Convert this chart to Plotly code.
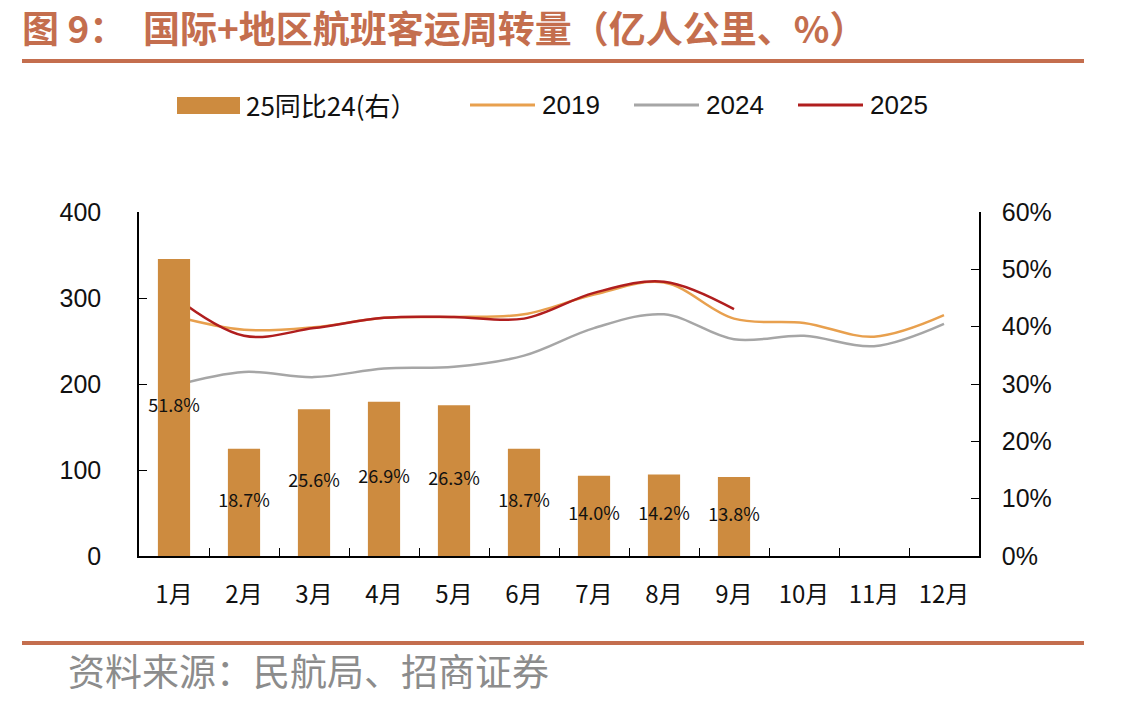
import plotly.graph_objects as go

months = ["1月", "2月", "3月", "4月", "5月", "6月", "7月", "8月", "9月", "10月", "11月", "12月"]
yoy_2524 = [0.518, 0.187, 0.256, 0.269, 0.263, 0.187, 0.140, 0.142, 0.138]
yoy_labels = ["51.8%", "18.7%", "25.6%", "26.9%", "26.3%", "18.7%", "14.0%", "14.2%", "13.8%"]
v2019 = [279, 263, 266, 277, 278, 281, 304, 318, 276, 271, 255, 280]
v2024 = [198, 214, 208, 218, 220, 233, 265, 281, 252, 256, 244, 270]
v2025 = [302, 256, 265, 277, 278, 276, 306, 319, 287]
left_ticks = [0, 100, 200, 300, 400]
right_ticks = [0, 0.1, 0.2, 0.3, 0.4, 0.5, 0.6]

W, H = 1143, 703
L, R, T, B = 139, 979, 212, 556
def px(x):
    return (x - L) / (R - L)
def py(y):
    return (B - y) / (B - T)

C_BAR = "#CD8B3F"
C_2019 = "#E8A04E"
C_2024 = "#A6A6A6"
C_2025 = "#B01E1E"
C_TITLE = "#C46E4E"
FONT_NUM = "Liberation Sans Narrow, Liberation Sans, Arial, sans-serif"
FONT_CJK = "Noto Sans CJK SC, sans-serif"

fig = go.Figure()
fig.add_trace(go.Bar(x=months[:len(yoy_2524)], y=yoy_2524, yaxis="y2", marker_color=C_BAR,
                     marker_line_width=0, width=0.46, name="25同比24(右)", showlegend=False))
fig.add_trace(go.Scatter(x=months[:len(yoy_2524)], y=[v / 2 for v in yoy_2524], yaxis="y2",
                         mode="text", text=yoy_labels,
                         textfont=dict(family=FONT_CJK, size=18, color="#111111"),
                         showlegend=False, hoverinfo="skip"))
fig.add_trace(go.Scatter(x=months, y=v2019, mode="lines", line=dict(color=C_2019, width=2.5, shape="spline", smoothing=1.0), name="2019", showlegend=False))
fig.add_trace(go.Scatter(x=months, y=v2024, mode="lines", line=dict(color=C_2024, width=2.5, shape="spline", smoothing=1.0), name="2024", showlegend=False))
fig.add_trace(go.Scatter(x=months[:len(v2025)], y=v2025, mode="lines", line=dict(color=C_2025, width=2.5, shape="spline", smoothing=1.0), name="2025", showlegend=False))

shapes = []
annotations = []
# title and rules
annotations.append(dict(text="<b>图 9：\u00a0\u00a0国际+地区航班客运周转量（亿人公里、%）</b>", x=px(20), y=py(27), xref="paper", yref="paper",
                        xanchor="left", yanchor="middle", showarrow=False,
                        font=dict(family=FONT_CJK, size=37, color=C_TITLE)))
shapes.append(dict(type="line", xref="paper", yref="paper", x0=px(22), x1=px(1084), y0=py(61), y1=py(61), line=dict(color=C_TITLE, width=4)))
shapes.append(dict(type="line", xref="paper", yref="paper", x0=px(22), x1=px(1084), y0=py(643), y1=py(643), line=dict(color=C_TITLE, width=4)))
annotations.append(dict(text="资料来源：民航局、招商证券", x=px(66), y=py(670), xref="paper", yref="paper",
                        xanchor="left", yanchor="middle", showarrow=False,
                        font=dict(family=FONT_CJK, size=37, color="#8C8C8C")))

# manual legend
ly = py(105)
shapes.append(dict(type="rect", xref="paper", yref="paper", x0=px(177), x1=px(240), y0=py(97), y1=py(114),
                   fillcolor=C_BAR, line=dict(width=0)))
annotations.append(dict(text="25同比24(右）", x=px(244), y=ly, xref="paper", yref="paper", xanchor="left", yanchor="middle",
                        showarrow=False, font=dict(family=FONT_CJK, size=26, color="#111111")))
for x0, x1, tx, col, label in [(470, 535, 540, C_2019, "2019"), (634, 699, 704, C_2024, "2024"), (798, 863, 868, C_2025, "2025")]:
    shapes.append(dict(type="line", xref="paper", yref="paper", x0=px(x0), x1=px(x1), y0=ly, y1=ly, line=dict(color=col, width=3)))
    annotations.append(dict(text=label, x=px(tx), y=ly, xref="paper", yref="paper", xanchor="left", yanchor="middle",
                            showarrow=False, font=dict(family=FONT_NUM, size=26, color="#111111")))

fig.update_layout(
    width=W, height=H,
    margin=dict(l=L, r=W - R, t=T, b=H - B, pad=0),
    paper_bgcolor="white", plot_bgcolor="white",
    showlegend=False,
    shapes=shapes, annotations=annotations,
    xaxis=dict(type="category", categoryorder="array", categoryarray=months, range=[-0.5, 11.5],
               showline=True, linecolor="#000000", linewidth=1.5, ticks="inside", ticklen=8, tickcolor="#000000",
               tickson="boundaries", showgrid=False, zeroline=False,
               tickfont=dict(family=FONT_CJK, size=24, color="#111111"), ticklabelstandoff=16),
    yaxis=dict(range=[0, 400], tickvals=left_ticks, showline=True, linecolor="#000000", linewidth=1.5,
               ticks="inside", ticklen=8, tickcolor="#000000", showgrid=False, zeroline=False,
               tickfont=dict(family=FONT_NUM, size=25, color="#111111"), ticklabelstandoff=31),
    yaxis2=dict(range=[0, 0.6], tickvals=right_ticks, tickformat=".0%", overlaying="y", side="right",
                showline=True, linecolor="#000000", linewidth=1.5, ticks="inside", ticklen=8, tickcolor="#000000",
                showgrid=False, zeroline=False,
                tickfont=dict(family=FONT_NUM, size=25, color="#111111"), ticklabelstandoff=16),
    bargap=0.5,
)

fig.write_html("out.html")
